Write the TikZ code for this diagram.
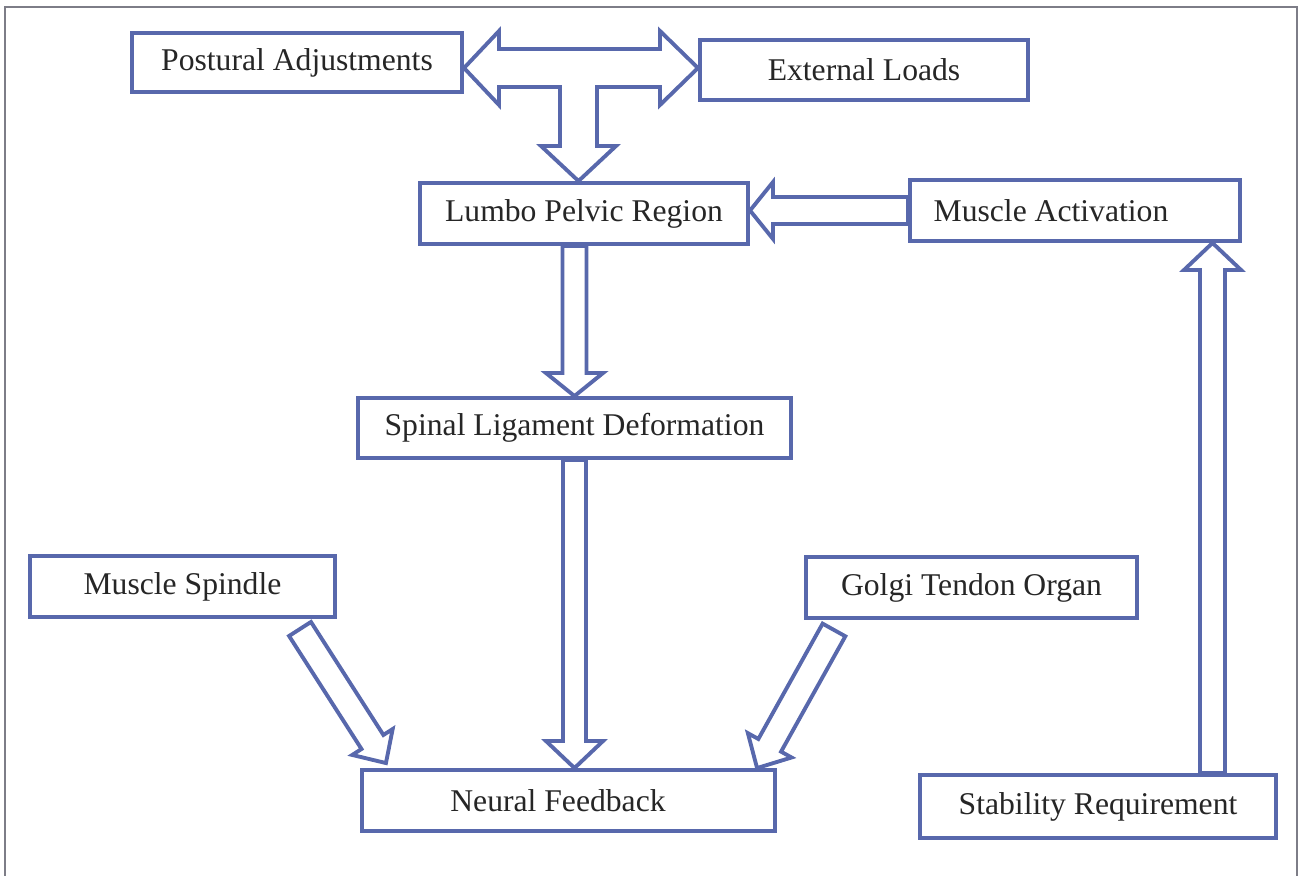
\documentclass[tikz,border=0pt]{standalone}
\usepackage{fontspec}
\setmainfont{Liberation Serif}
\usetikzlibrary{calc}
\definecolor{flowblue}{RGB}{88,104,172}
\definecolor{framegray}{RGB}{125,125,135}
% block arrow: tail, tip, half shaft, half head, head length
\newcommand\blockarrow[5]{%
  \coordinate (ba-h) at ($(#2)!#5!(#1)$);
  \draw[blockline] ($(#1)!#3!90:(#2)$) -- ($(ba-h)!#3!90:(#2)$) -- ($(ba-h)!#4!90:(#2)$)
    -- (#2) -- ($(ba-h)!#4!-90:(#2)$) -- ($(ba-h)!#3!-90:(#2)$) -- ($(#1)!#3!-90:(#2)$) -- cycle;
}
\begin{document}
\begin{tikzpicture}[x=0.01cm, y=-0.01cm,
  every node/.style={font=\fontsize{9}{11}\selectfont, text=black!85},
  box/.style={draw=flowblue, line width=1.1pt, fill=white, inner sep=0pt},
  blockline/.style={draw=flowblue, line width=1.1pt, fill=white}]
  \useasboundingbox (0,0) rectangle (1303,876);
  \draw[framegray, line width=0.6pt] (5,876) -- (5,7) -- (1297,7) -- (1297,876);

  \node[box, minimum width=3.30cm, minimum height=0.59cm] (postural) at (297,62.5) {Postural Adjustments};
  \node[box, minimum width=3.28cm, minimum height=0.60cm] (external) at (864,70) {External Loads};
  \node[box, minimum width=3.28cm, minimum height=0.61cm] (lumbo) at (584,213.5) {Lumbo Pelvic Region};
  \node[box, minimum width=3.30cm, minimum height=0.61cm] (activation) at (1075,210.5) {Muscle Activation\rule{0.48cm}{0pt}};
  \node[box, minimum width=4.33cm, minimum height=0.60cm] (spinal) at (574.5,428) {Spinal Ligament Deformation};
  \node[box, minimum width=3.05cm, minimum height=0.61cm] (spindle) at (182.5,586.5) {Muscle Spindle};
  \node[box, minimum width=3.31cm, minimum height=0.61cm] (golgi) at (971.5,587.5) {Golgi Tendon Organ};
  \node[box, minimum width=4.13cm, minimum height=0.61cm] (neural) at (568.5,800.5) {Neural Feedback\rule{0.21cm}{0pt}};
  \node[box, minimum width=3.56cm, minimum height=0.63cm] (stability) at (1098,806.5) {Stability Requirement};

  % T-shaped arrow
  \coordinate (tjoin) at (578.5,68);
  \draw[blockline] (postural.east |- tjoin) -- (499,31) -- (499,49) -- (660,49) -- (660,31)
    -- (external.west |- tjoin) -- (660,105) -- (660,87) -- (597,87) -- (597,146) -- (616,146)
    -- (tjoin |- lumbo.north) -- (541,146) -- (560,146) -- (560,87) -- (499,87) -- (499,105) -- cycle;

  \coordinate (lumbo-in) at (lumbo.east |- activation.west);
  \blockarrow{activation.west}{lumbo-in}{0.135cm}{0.285cm}{0.23cm}
  \coordinate (lumbo-out) at (spinal.north |- lumbo.south);
  \blockarrow{lumbo-out}{spinal.north}{0.12cm}{0.285cm}{0.23cm}
  \coordinate (neural-in) at (spinal.south |- neural.north);
  \blockarrow{spinal.south}{neural-in}{0.115cm}{0.285cm}{0.27cm}
  \coordinate (spindle-out) at ($(spindle.south east)+(-37,10)$);
  \coordinate (neural-left) at ($(neural.north west)+(26,-5)$);
  \blockarrow{spindle-out}{neural-left}{0.13cm}{0.24cm}{0.25cm}
  \coordinate (golgi-out) at ($(golgi.south west)+(30,10)$);
  \coordinate (neural-right) at ($(neural.north east)+(-20,0)$);
  \blockarrow{golgi-out}{neural-right}{0.13cm}{0.25cm}{0.26cm}
  \coordinate (stability-out) at ($(stability.north)+(114.5,0)$);
  \coordinate (activation-in) at (stability-out |- activation.south);
  \blockarrow{stability-out}{activation-in}{0.125cm}{0.285cm}{0.27cm}
\end{tikzpicture}
\end{document}
